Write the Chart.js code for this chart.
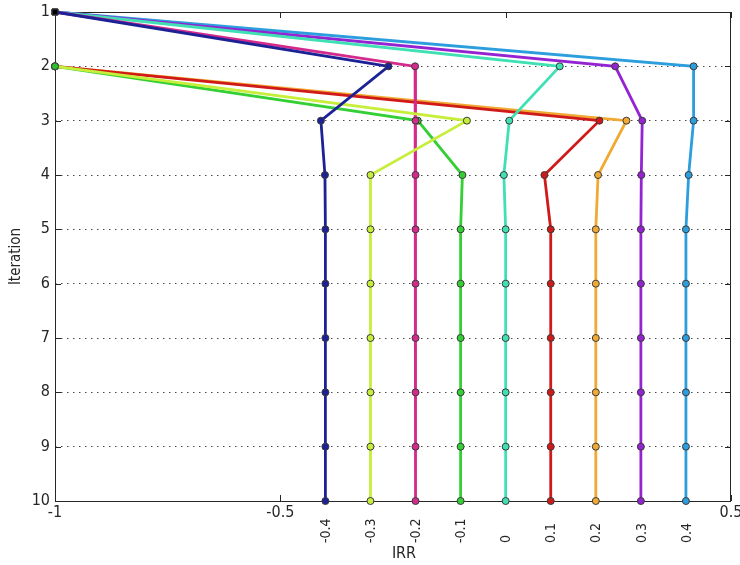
<!DOCTYPE html>
<html>
<head>
<meta charset="utf-8">
<script src="https://cdn.jsdelivr.net/npm/chart.js@4.4.1/dist/chart.umd.min.js"></script>
<style>
  html, body { margin: 0; padding: 0; background: #fff; }
  #wrap { width: 740px; height: 565px; }
</style>
</head>
<body>
<div id="wrap"><canvas id="grafico" width="740" height="565"></canvas></div>
<script>
// iterations on the y axis (reversed), IRR on x
const iterations = [1, 2, 3, 4, 5, 6, 7, 8, 9, 10];

const irrNavy    = [-1, -0.26, -0.41, -0.401, -0.4, -0.4, -0.4, -0.4, -0.4, -0.4];
const irrLime    = [null, -1, -0.086, -0.3, -0.3, -0.3, -0.3, -0.3, -0.3, -0.3];
const irrMagenta = [-1, -0.201, -0.2, -0.2, -0.2, -0.2, -0.2, -0.2, -0.2, -0.2];
const irrGreen   = [null, -1, -0.195, -0.096, -0.1, -0.1, -0.1, -0.1, -0.1, -0.1];
const irrTeal    = [-1, 0.12, 0.008, -0.004, 0, 0, 0, 0, 0, 0];
const irrRed     = [null, -1, 0.208, 0.086, 0.1, 0.1, 0.1, 0.1, 0.1, 0.1];
const irrOrange  = [null, -1, 0.268, 0.205, 0.2, 0.2, 0.2, 0.2, 0.2, 0.2];
const irrPurple  = [-1, 0.243, 0.303, 0.301, 0.3, 0.3, 0.3, 0.3, 0.3, 0.3];
const irrBlue    = [-1, 0.417, 0.417, 0.406, 0.4, 0.4, 0.4, 0.4, 0.4, 0.4];

const xTickValues = [-1, -0.5, 0, 0.5];
const xTickLabels = ["-1", "-0.5", "", "0.5"];
const finalTickValues = [-0.4, -0.3, -0.2, -0.1, 0, 0.1, 0.2, 0.3, 0.4];
const finalTickLabels = ["-0.4", "-0.3", "-0.2", "-0.1", "0", "0.1", "0.2", "0.3", "0.4"];

const allSeries = [irrNavy, irrLime, irrMagenta, irrGreen, irrTeal, irrRed, irrOrange, irrPurple, irrBlue];
const lineColors = ["#1c2296", "#c6ee3a", "#d42a8c", "#34cf34", "#3fe0b4", "#d01a1a", "#f0aa34", "#9424d2", "#2c9ede"];

const FONT = "'Liberation Sans Narrow', 'DejaVu Sans Condensed', 'Liberation Sans', sans-serif";
const AXIS_COLOR = "#262626";

const datasets = allSeries.map(function (values, i) {
  const pts = [];
  values.forEach(function (v, k) {
    if (v !== null) pts.push({ x: v, y: iterations[k] });
  });
  const color = lineColors[i];
  return {
    data: pts,
    clip: false,
    borderColor: color,
    borderWidth: 2.8,
    pointRadius: ctx => (ctx.raw && ctx.raw.x === -1 && ctx.raw.y === 1 ? 4 : 3.5),
    pointStyle: ctx => (ctx.raw && ctx.raw.x === -1 && ctx.raw.y === 1 ? "rect" : "circle"),
    pointBackgroundColor: function (ctx) {
      if (!ctx.raw) return color;
      if (ctx.raw.x === -1 && ctx.raw.y === 1) return "#000";
      if (ctx.raw.x === -1 && ctx.raw.y === 2) return "#2fbf2f";
      return color;
    },
    pointBorderColor: "#3a3a3a",
    pointBorderWidth: 1,
    tension: 0,
    fill: false
  };
});

const boxPlugin = {
  id: "boxAndTicks",
  beforeDatasetsDraw(chart) {
    const { ctx, chartArea: a, scales } = chart;
    const x = scales.x, y = scales.y;
    ctx.save();
    ctx.strokeStyle = AXIS_COLOR;
    ctx.lineWidth = 1;
    ctx.strokeRect(a.left + 0.5, a.top + 0.5, a.right - a.left - 1, a.bottom - a.top);
    ctx.beginPath();
    iterations.forEach(function (v) {
      const py = Math.round(y.getPixelForValue(v)) + 0.5;
      ctx.moveTo(a.left, py); ctx.lineTo(a.left + 6, py);
      ctx.moveTo(a.right, py); ctx.lineTo(a.right - 6, py);
    });
    xTickValues.forEach(function (v) {
      const px = Math.round(x.getPixelForValue(v)) + 0.5;
      ctx.moveTo(px, a.bottom); ctx.lineTo(px, a.bottom - 6);
      ctx.moveTo(px, a.top); ctx.lineTo(px, a.top + 6);
    });
    ctx.stroke();
    ctx.restore();
  },
  afterDraw(chart) {
    const { ctx, chartArea: a, scales } = chart;
    ctx.save();
    ctx.fillStyle = AXIS_COLOR;
    ctx.font = "14px " + FONT;
    ctx.textAlign = "left";
    ctx.textBaseline = "middle";
    finalTickValues.forEach(function (v, i) {
      const px = scales.x.getPixelForValue(v);
      ctx.save();
      ctx.translate(px + 1, a.bottom + 42);
      ctx.rotate(-Math.PI / 2);
      ctx.fillText(finalTickLabels[i], 0, 0);
      ctx.restore();
    });
    // axis title, a little right of centre as in the original
    ctx.font = "16px " + FONT;
    ctx.textAlign = "center";
    ctx.fillText("IRR", (a.left + a.right) / 2 + 11, a.bottom + 53);
    ctx.restore();
  }
};

new Chart(document.getElementById("grafico"), {
  type: "line",
  data: { datasets },
  options: {
    responsive: false,
    animation: false,
    layout: { padding: { top: 12, right: 9, left: 0, bottom: 0 } },
    plugins: { legend: { display: false }, tooltip: { enabled: false } },
    scales: {
      x: {
        type: "linear",
        min: -1,
        max: 0.5,
        afterFit: function (scale) {
          scale.height = 64;
          scale.paddingLeft = 0;
          scale.paddingRight = 0;
        },
        afterBuildTicks: function (scale) {
          scale.ticks = xTickValues.map(v => ({ value: v }));
        },
        ticks: {
          autoSkip: false,
          maxRotation: 0,
          padding: 2,
          color: AXIS_COLOR,
          font: { family: FONT, size: 16 },
          callback: function (value, index) { return xTickLabels[index]; }
        },
        grid: { display: false, drawTicks: false },
        border: { display: false }
      },
      y: {
        type: "linear",
        min: 1,
        max: 10,
        reverse: true,
        afterFit: function (scale) {
          scale.width = 55;
          scale.paddingTop = 0;
          scale.paddingBottom = 0;
        },
        ticks: {
          stepSize: 1,
          padding: 5,
          color: AXIS_COLOR,
          font: { family: FONT, size: 16 }
        },
        grid: { color: "#4a4a4a", lineWidth: 1, drawTicks: false },
        border: { display: false, dash: [1.5, 4.5] },
        title: {
          display: true,
          text: "Iteration",
          color: AXIS_COLOR,
          font: { family: FONT, size: 15 },
          padding: { top: 7, bottom: 0 }
        }
      }
    }
  },
  plugins: [boxPlugin]
});
</script>
</body>
</html>
